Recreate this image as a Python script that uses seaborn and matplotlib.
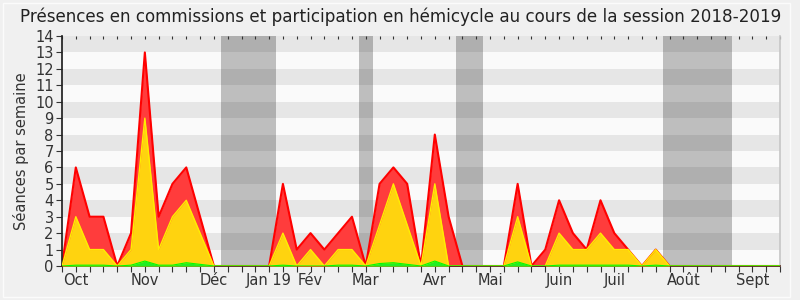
import matplotlib
matplotlib.use("Agg")
import matplotlib.pyplot as plt
import seaborn as sns
import numpy as np
import pandas as pd
from matplotlib.patches import Rectangle

# ---- data -------------------------------------------------------------
weeks = list(range(53))
red_vals = [0, 6, 3, 3, 0, 2, 13, 3, 5, 6, 3, 0,
            0, 0, 0,
            0, 5, 1, 2, 1, 2, 3, 0, 5, 6, 5, 0, 8, 3, 0,
            0, 0, 0, 5, 0, 1, 4, 2, 1, 4, 2, 1, 0, 1, 0,
            0, 0, 0, 0, 0, 0, 0, 0]
yellow_vals = [0, 3, 1, 1, 0, 1, 9, 1, 3, 4, 2, 0,
               0, 0, 0,
               0, 2, 0, 1, 0, 1, 1, 0, 2.5, 5, 2.5, 0, 5, 0, 0,
               0, 0, 0, 3, 0, 0, 2, 1, 1, 2, 1, 1, 0, 1, 0,
               0, 0, 0, 0, 0, 0, 0, 0]
green_vals = [0, 0.05, 0.05, 0.05, 0, 0.05, 0.3, 0.05, 0.05, 0.2, 0.1, 0,
              0, 0, 0,
              0, 0.05, 0, 0, 0, 0.05, 0.05, 0, 0.15, 0.2, 0.1, 0, 0.3, 0, 0,
              0, 0, 0, 0.25, 0, 0, 0.05, 0.05, 0.05, 0.05, 0.05, 0.05, 0, 0.05, 0,
              0, 0, 0, 0, 0, 0, 0, 0]
vacations = [(11.5, 15.5), (21.5, 22.5), (28.5, 30.5), (43.5, 48.5)]
month_ticks = [1, 6, 11, 15, 18, 22, 27, 31, 36, 40, 45, 50]
month_labels = ["Oct", "Nov", "Déc", "Jan 19", "Fév", "Mar", "Avr", "Mai",
                "Juin", "Juil", "Août", "Sept"]
title = "Présences en commissions et participation en hémicycle au cours de la session 2018-2019"
ylabel = "Séances par semaine"

df = pd.DataFrame({"week": weeks, "red": red_vals, "yellow": yellow_vals, "green": green_vals})

# ---- figure -------------------------------------------------------------
sns.set_theme(style="white")
plt.rcParams["font.family"] = ["DejaVu Sans"]

fig = plt.figure(figsize=(8, 3), dpi=100, facecolor="#f0f0f0")
ax = fig.add_axes([62 / 800, 1 - 266 / 300, (780 - 62) / 800, (266 - 36) / 300])
ax.set_facecolor("#fafafa")

# background bands
for i in range(14):
    if i % 2 == 1:
        ax.axhspan(i, i + 1, color="#e6e6e6", lw=0, zorder=0)
for a, b in vacations:
    ax.axvspan(a, b, color="black", alpha=0.24, lw=0, zorder=0.5)

# areas
ax.fill_between(df["week"], 0, df["red"], color="#ff3c3c", lw=0, zorder=1)
sns.lineplot(data=df, x="week", y="red", color="#ff0000", lw=1.5, ax=ax, zorder=2)
ax.fill_between(df["week"], 0, df["yellow"], color="#ffd30f", lw=0, zorder=3)
sns.lineplot(data=df, x="week", y="yellow", color="#ffee00", lw=1.0, ax=ax, zorder=4)
ax.fill_between(df["week"], 0, df["green"], color="#22ee22", lw=0, zorder=5)
sns.lineplot(data=df, x="week", y="green", color="#00ff00", lw=0.8, ax=ax, zorder=6)

ax.set_xlim(0, 52)
ax.set_ylim(0, 14)
ax.set_yticks(range(15))
ax.set_xticks(weeks)
labels = [""] * 53
for t, l in zip(month_ticks, month_labels):
    labels[t] = l
ax.set_xticklabels(labels)
ax.set_xlabel("")
ax.set_ylabel(ylabel, fontsize=10.5, color="#333333")

ax.tick_params(axis="both", which="major", labelsize=10.5, colors="#333333",
               length=4, width=0.8, direction="out")
ax.tick_params(axis="x", bottom=True, top=True, labeltop=False, pad=1)
ax.tick_params(axis="y", left=True, pad=2)
for t in ax.xaxis.get_major_ticks():
    t.tick2line.set_markersize(2)
    t.tick2line.set_marker(matplotlib.lines.TICKDOWN)
    t.tick2line.set_color("#222222")
for lab in ax.get_xticklabels():
    lab.set_color("#333333")

ax.spines["left"].set_color("#222222")
ax.spines["bottom"].set_color("#4a1a0a")
ax.spines["bottom"].set_linewidth(1.2)
ax.spines["top"].set_visible(False)
ax.spines["right"].set_color("#c8c8c8")
ax.grid(False)

fig.text(401 / 800, 1 - 17 / 300, title, ha="center", va="center",
         fontsize=12.1, color="#222222")

fig.patches.append(Rectangle((3 / 800, 3 / 300), 787 / 800, 294 / 300,
                             transform=fig.transFigure, fill=False,
                             edgecolor="#fbfbfb", lw=1))

fig.savefig("out.png", dpi=100, facecolor=fig.get_facecolor())
